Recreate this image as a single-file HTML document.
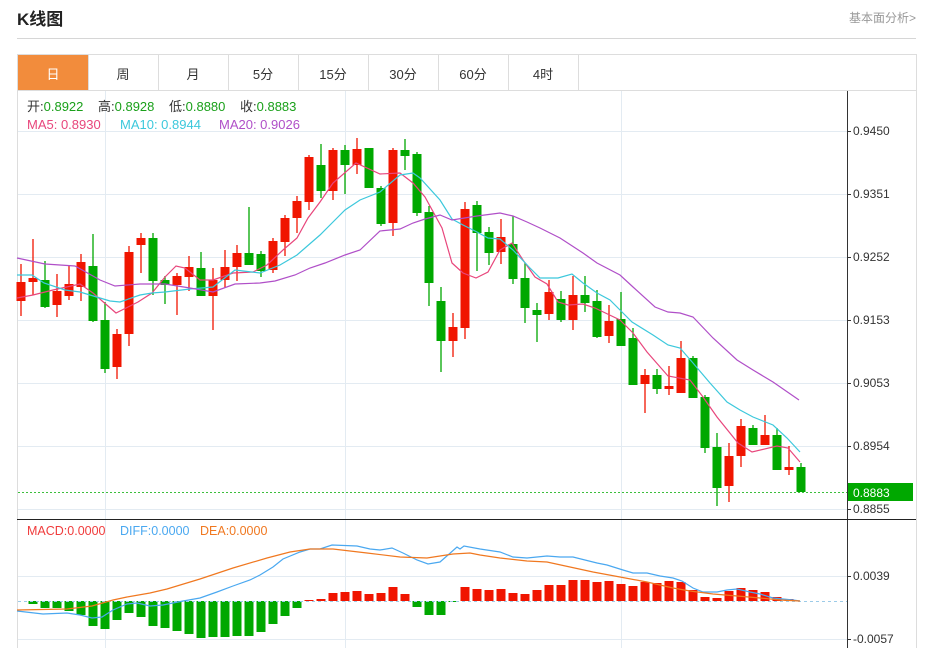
<!DOCTYPE html>
<html><head><meta charset="utf-8">
<style>
body{margin:0;width:931px;height:648px;background:#fff;overflow:hidden;font-family:"Liberation Sans","Noto Sans CJK SC",sans-serif;position:relative}
.t{position:absolute;white-space:nowrap}
</style></head><body>
<div class="t" style="left:17px;top:5px;font-size:17px;font-weight:bold;color:#222">K线图</div>
<div class="t" style="left:849px;top:9px;font-size:12px;color:#999">基本面分析&gt;</div>
<div style="position:absolute;left:17px;top:38px;width:899px;height:1px;background:#d6d6d6"></div>
<svg id="s" width="931" height="648" style="position:absolute;left:0;top:0" font-family="Liberation Sans, Noto Sans CJK SC, sans-serif"></svg>
<script>
var S='';
function r(x,y,w,h,c){S+='<rect x="'+x+'" y="'+y+'" width="'+w+'" height="'+h+'" fill="'+c+'"/>';}
function l(x1,y1,x2,y2,c,w,d){S+='<line x1="'+x1+'" y1="'+y1+'" x2="'+x2+'" y2="'+y2+'" stroke="'+c+'" stroke-width="'+(w||1)+'"'+(d?' stroke-dasharray="'+d+'"':'')+'/>';}
function t(x,y,s,c,sz,a){S+='<text x="'+x+'" y="'+y+'" fill="'+c+'" font-size="'+(sz||12)+'"'+(a?' text-anchor="'+a+'"':'')+'>'+s+'</text>';}
function p(pts,c){S+='<polyline fill="none" stroke="'+c+'" stroke-width="1.2" points="'+pts+'"/>';}
l(17.5,54,17.5,648,'#ddd');l(916.5,54,916.5,648,'#ddd');l(17,54.5,916,54.5,'#ddd');l(17,90.5,916,90.5,'#ddd');
r(18,55,70,35,'#f28c3c');
var tabs=['日','周','月','5分','15分','30分','60分','4时'];
for(var i=0;i<8;i++){var x=18+70*i;if(i>0)l(x+.5,55,x+.5,90,'#ddd');t(x+35,79,tabs[i],i==0?'#fff':'#333',13,'middle');}
l(578.5,55,578.5,90,'#ddd');
[131,194,257,320,383,446,509].forEach(function(y){l(18,y+.5,847,y+.5,'#e3ebf2');});
[576,639].forEach(function(y){l(18,y+.5,847,y+.5,'#e3ebf2');});
[105,345,621].forEach(function(x){l(x+.5,91,x+.5,648,'#e3ebf2');});
l(847.5,91,847.5,648,'#333');l(17,519.5,916,519.5,'#222');
var tk=[[131,'0.9450'],[194,'0.9351'],[257,'0.9252'],[320,'0.9153'],[383,'0.9053'],[446,'0.8954'],[509,'0.8855']];
tk.forEach(function(k){l(847,k[0]+.5,851,k[0]+.5,'#333');t(853,k[0]+4,k[1],'#333',12);});
[[576,'0.0039'],[639,'-0.0057']].forEach(function(k){l(847,k[0]+.5,851,k[0]+.5,'#333');t(853,k[0]+4,k[1],'#333',12);});
var R='#f01500',G='#00a800';
var C=[[R,282,301,264,316],[R,278,282,239,295],[G,280,307,261,308],[R,291,305,274,317],[R,284,296,265,300],[R,262,287,254,301],[G,266,321,234,322],[G,320,369,302,373],[R,334,367,329,379],[R,252,334,246,346],[R,238,245,233,273],[G,238,281,233,295],[G,280,285,276,304],[R,276,285,273,315],[R,267,277,256,291],[G,268,296,252,296],[R,280,296,268,330],[R,267,280,250,288],[R,253,267,245,281],[G,253,265,207,265],[G,254,271,251,277],[R,241,270,238,273],[R,218,242,215,256],[R,201,218,196,233],[R,157,202,155,210],[G,165,191,144,198],[R,150,191,148,200],[G,150,165,145,194],[R,149,165,138,174],[G,148,188,148,188],[G,188,224,186,226],[R,150,223,148,236],[G,150,156,139,170],[G,154,213,152,216],[G,212,283,206,306],[G,301,341,287,372],[R,327,341,313,357],[R,209,328,202,339],[G,205,233,201,271],[G,232,253,227,265],[R,237,252,219,264],[G,244,279,216,284],[G,278,308,263,323],[G,310,315,303,342],[R,292,314,280,320],[G,299,320,291,322],[R,295,320,276,330],[G,295,303,276,312],[G,301,337,290,338],[R,321,336,305,343],[G,319,346,292,346],[G,338,385,328,385],[R,375,384,369,413],[G,375,389,369,394],[R,386,389,366,395],[R,358,393,341,393],[G,358,398,356,398],[G,397,448,395,453],[G,447,488,433,506],[R,456,486,443,502],[R,426,456,419,467],[G,428,445,425,445],[R,435,445,415,445],[G,435,470,428,470],[R,467,470,446,475],[G,467,492,463,492]];
C.forEach(function(c,i){var x=21+12*i;l(x,c[3],x,c[4],c[0],1.3);r(x-4.5,c[1],9,Math.max(c[2]-c[1],2),c[0]);});
p('17,298 33,295 53,290 80,284 93,293 116,313 138,302 152,293 165,277 176,266 185,268 200,280 213,280 233,273 253,272 267,265 283,250 297,238 308,218 320,202 333,183 356,163 380,174 400,173 413,183 425,197 442,228 452,263 463,273 476,278 488,272 500,250 512,243 523,260 535,277 547,284 558,302 568,305 583,304 595,308 620,320 633,333 647,352 668,376 690,380 703,397 717,417 738,443 752,452 777,446 788,448 800,462','#e8467c');
p('17,275 32,275 44,283 65,290 80,292 100,298 110,301 120,302 140,295 152,293 165,292 190,289 213,287 235,270 260,273 280,265 297,255 320,235 333,222 345,210 360,200 380,192 400,175 413,173 420,178 440,200 452,219 463,225 477,232 488,238 500,239 513,250 530,268 540,278 558,278 572,274 583,283 597,293 610,300 620,310 632,322 653,335 668,345 680,348 693,363 710,383 727,402 740,410 753,417 773,425 787,438 800,452','#3cc8dc');
p('17,258 45,264 75,266 100,280 115,286 140,284 165,284 190,288 213,292 235,284 260,283 275,281 295,275 310,268 325,263 345,255 360,250 380,231 400,229 413,223 425,219 440,215 452,220 477,216 500,213 513,216 527,222 540,228 560,238 583,253 597,263 620,275 633,287 655,307 668,312 680,313 693,317 713,338 737,360 753,370 773,382 799,400','#b04fc8');
l(18,492.5,847,492.5,'#3cbf3c',1,'2,2');
r(848,483,65,18,G);t(853,497,'0.8883','#fff',12);
S+='<text y="111" font-size="13" fill="#333"><tspan x="27">开:</tspan><tspan fill="#1aa01a">0.8922</tspan><tspan x="98">高:</tspan><tspan fill="#1aa01a">0.8928</tspan><tspan x="169">低:</tspan><tspan fill="#1aa01a">0.8880</tspan><tspan x="240">收:</tspan><tspan fill="#1aa01a">0.8883</tspan></text>';
S+='<text y="129" font-size="13"><tspan x="27" fill="#e8467c">MA5: 0.8930</tspan><tspan x="120" fill="#3cc8dc">MA10: 0.8944</tspan><tspan x="219" fill="#b04fc8">MA20: 0.9026</tspan></text>';
S+='<text y="535" font-size="12.5"><tspan x="27" fill="#f03c3c">MACD:0.0000</tspan><tspan x="120" fill="#4aa8f0">DIFF:0.0000</tspan><tspan x="200" fill="#f07820">DEA:0.0000</tspan></text>';
var H=[601,604,608,608,611,615,626,629,620,613,617,626,628,631,634,638,637,637,636,636,632,624,616,608,600,599,593,592,591,594,593,587,594,607,615,615,602,587,589,590,589,593,594,590,585,585,580,580,582,581,584,586,582,583,581,582,590,597,598,591,588,590,592,597,599];
H.forEach(function(y,i){var x=21+12*i-4.5;if(i==0)return;if(y>601)r(x,601,9,y-601,G);else if(y<601)r(x,y,9,601-y,R);});
l(18,601.5,847,601.5,'#9ccbe8',1,'3,3');
var D='17,611 43,614 67,613 80,615 92,618 102,617 113,610 127,604 137,603 150,606 163,605 183,601 200,598 217,592 233,586 250,580 260,575 273,567 283,559 300,552 310,549 320,549 332,545 357,546 370,549 380,550 392,548 403,553 417,560 428,564 440,562 448,555 457,547 460,549 464,546 480,549 500,552 513,557 527,558 547,556 560,557 573,557 597,563 607,565 623,570 633,573 647,573 660,576 673,578 682,581 693,588 703,592 717,592 727,590 737,589 750,592 760,594 773,598 793,600 800,601';
var E='17,610 67,609 92,606 113,600 127,597 150,593 167,589 200,579 233,568 267,558 290,552 310,549 333,549 367,553 400,557 427,558 453,554 470,553 480,555 500,558 527,561 547,562 570,567 593,572 620,577 647,582 673,588 690,591 713,594 737,596 760,598 780,600 800,601';
p(D,'#4aa8f0');p(E,'#f07820');
document.getElementById('s').innerHTML=S;
</script>
</body></html>
